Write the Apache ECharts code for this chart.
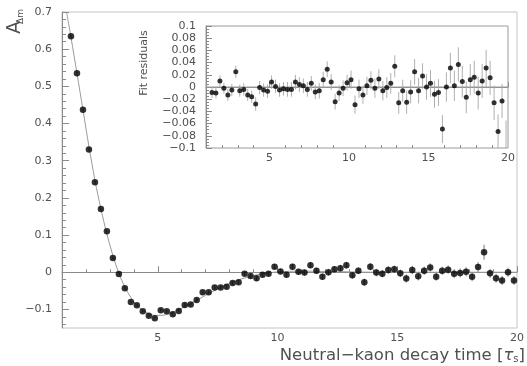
<!DOCTYPE html>
<html><head><meta charset="utf-8">
<script src="https://cdn.jsdelivr.net/npm/echarts@6/dist/echarts.min.js"></script>
<style>html,body{margin:0;padding:0;background:#fff}#c{width:527px;height:366px}</style>
</head><body><div id="c"></div>
<script>
// ---- data ----
const binCenters = [1.375,1.625,1.875,2.125,2.375,2.625,2.875,3.125,3.375,3.625,3.875,4.125,4.375,4.625,4.875,
  5.125,5.375,5.625,5.875,6.125,6.375,6.625,6.875,7.125,7.375,7.625,7.875,8.125,8.375,8.625,8.875,
  9.125,9.375,9.625,9.875,10.125,10.375,10.625,10.875,11.125,11.375,11.625,11.875,12.125,12.375,12.625,12.875,
  13.125,13.375,13.625,13.875,14.125,14.375,14.625,14.875,15.125,15.375,15.625,15.875,16.125,16.375,16.625,16.875,
  17.125,17.375,17.625,17.875,18.125,18.375,18.625,18.875,19.125,19.375,19.625,19.875];
const asymmetry = [0.635,0.535,0.437,0.330,0.242,0.170,0.110,0.038,-0.005,-0.043,-0.080,-0.089,-0.105,-0.117,-0.124,
  -0.102,-0.105,-0.113,-0.104,-0.088,-0.087,-0.075,-0.054,-0.054,-0.041,-0.041,-0.039,-0.029,-0.027,-0.004,-0.010,
  -0.016,-0.007,-0.004,0.015,0.002,-0.007,0.015,0.001,-0.001,0.019,0.004,-0.012,0.000,0.008,0.011,0.019,
  -0.008,0.004,-0.027,0.015,-0.001,-0.004,0.006,0.008,-0.003,-0.017,0.006,-0.011,0.004,0.013,-0.012,0.004,
  0.007,-0.004,-0.002,0.001,-0.012,0.014,0.054,-0.003,-0.016,-0.022,0.000,-0.022];
const asymErr = [0.003,0.003,0.003,0.003,0.003,0.003,0.003,0.003,0.003,0.003,0.003,0.003,0.003,0.003,0.003,
  0.004,0.004,0.004,0.004,0.005,0.005,0.005,0.005,0.005,0.005,0.005,0.006,0.006,0.006,0.006,0.006,
  0.007,0.007,0.007,0.007,0.007,0.007,0.008,0.008,0.008,0.008,0.008,0.008,0.009,0.009,0.009,0.009,
  0.009,0.009,0.010,0.010,0.010,0.010,0.010,0.010,0.010,0.011,0.011,0.011,0.011,0.011,0.011,0.011,
  0.011,0.012,0.012,0.012,0.012,0.013,0.020,0.012,0.012,0.012,0.012,0.012];
const fitT = [1.19,1.375,1.625,1.875,2.125,2.375,2.625,2.875,3.125,3.375,3.625,3.875,4.125,4.375,4.625,4.875,5.125,
  5.5,6.0,6.5,7.0,7.5,8.0,8.5,9.0,9.5,10.0,11.0,12.0,13.0,14.0,16.0,20.0];
const fitA = [0.700,0.632,0.535,0.437,0.338,0.248,0.170,0.103,0.045,-0.003,-0.040,-0.068,-0.089,-0.103,-0.112,-0.116,-0.116,
  -0.111,-0.097,-0.080,-0.062,-0.045,-0.030,-0.018,-0.009,-0.003,0.001,0.003,0.002,0.001,0.000,0.000,0.000];
const residuals = [-0.009,-0.010,0.010,-0.002,-0.013,-0.005,0.025,-0.006,-0.004,-0.013,-0.016,-0.028,-0.001,-0.005,-0.007,
  0.008,0.001,-0.005,-0.003,-0.004,-0.004,0.008,0.004,0.002,-0.004,0.006,-0.008,-0.006,0.012,0.029,0.008,
  -0.024,-0.010,-0.002,0.007,0.012,-0.029,-0.003,-0.013,0.002,0.011,-0.002,0.013,-0.006,-0.001,0.006,0.034,
  -0.026,-0.006,-0.025,-0.008,0.025,-0.006,0.018,0.000,0.006,-0.012,-0.009,-0.069,0.000,0.031,0.002,0.037,
  0.009,-0.017,0.012,0.016,-0.010,0.010,0.031,0.015,-0.026,-0.073,-0.023,-0.115];
const residErr = [0.009,0.009,0.009,0.009,0.010,0.010,0.010,0.010,0.010,0.010,0.010,0.011,0.011,0.011,0.011,
  0.011,0.011,0.011,0.011,0.012,0.012,0.012,0.012,0.012,0.012,0.012,0.012,0.013,0.013,0.013,0.013,
  0.013,0.013,0.013,0.013,0.015,0.015,0.015,0.015,0.015,0.015,0.016,0.016,0.016,0.017,0.017,0.018,
  0.018,0.018,0.019,0.019,0.021,0.021,0.021,0.021,0.022,0.022,0.022,0.023,0.024,0.025,0.025,0.028,
  0.026,0.026,0.026,0.027,0.027,0.028,0.030,0.028,0.028,0.028,0.028,0.060];
const xMajorTicks = [5,10,15,20];
const xMinorTicks = [2,3,4,6,7,8,9,11,12,13,14,16,17,18,19];
const yMainTicks = [-0.1,0,0.1,0.2,0.3,0.4,0.5,0.6,0.7];
const yMainMinor = [-0.14,-0.12,-0.08,-0.06,-0.04,-0.02,0.02,0.04,0.06,0.08,0.12,0.14,0.16,0.18,
  0.22,0.24,0.26,0.28,0.32,0.34,0.36,0.38,0.42,0.44,0.46,0.48,0.52,0.54,0.56,0.58,0.62,0.64,0.66,0.68];

// ---- chart ----
const FONT = 'DejaVu Sans';
const AX = '#8a8a8a';
const TXT = '#505050';
function fmt(v){ const r = Math.round(v*100)/100; return String(r).replace('-', '\u2212'); }
function pairs(xs, ys){ return xs.map((x,i)=>[x, ys[i]]); }
function errBars(xs, ys, es, xi, yi, color){
  return {
    type:'custom', xAxisIndex:xi, yAxisIndex:yi, silent:true, z:1,
    data: xs.map((x,i)=>[x, ys[i], es[i]]),
    renderItem(params, api){
      const x = api.value(0), y = api.value(1), e = api.value(2);
      const p1 = api.coord([x, y+e]), p2 = api.coord([x, y-e]);
      const cs = params.coordSys;
      const top = Math.max(p1[1], cs.y), bot = Math.min(p2[1], cs.y + cs.height);
      if (bot <= top) return null;
      return {type:'line', shape:{x1:p1[0], y1:top, x2:p1[0], y2:bot}, style:{stroke:color, lineWidth:1}};
    }
  };
}
function xAxisPair(gi, majorLen, minorLen){
  return [
    {gridIndex:gi, type:'value', min:1, max:20, position:'bottom',
     axisLine:{show:true, lineStyle:{color:AX, width:1}},
     axisTick:{show:true, inside:true, length:majorLen, customValues:xMajorTicks, lineStyle:{color:AX}},
     axisLabel:{show:true, customValues:xMajorTicks, color:TXT, fontFamily:FONT, fontSize:11, margin:5},
     splitLine:{show:false}},
    {gridIndex:gi, type:'value', min:1, max:20, position:'bottom',
     axisLine:{show:false},
     axisTick:{show:true, inside:true, length:minorLen, customValues:xMinorTicks, lineStyle:{color:AX}},
     axisLabel:{show:false}, splitLine:{show:false}}
  ];
}
const chart = echarts.init(document.getElementById('c'), null, {renderer:'canvas'});
chart.setOption({
  animation:false,
  backgroundColor:'#ffffff',
  grid:[
    {left:62, top:12, width:461, height:316, show:true, borderColor:'#c4c4c4', borderWidth:1},
    {left:206, top:26, width:302, height:122, show:true, borderColor:'#9a9a9a', borderWidth:1}
  ],
  xAxis: xAxisPair(0, 6, 3).concat(xAxisPair(1, 5, 3)),
  yAxis:[
    {gridIndex:0, type:'value', min:-0.15, max:0.7, position:'left',
     axisLine:{show:true, lineStyle:{color:AX}},
     axisTick:{show:true, inside:true, length:7, customValues:yMainTicks, lineStyle:{color:AX}},
     axisLabel:{show:true, customValues:yMainTicks, formatter:fmt, color:TXT, fontFamily:FONT, fontSize:11, margin:10},
     splitLine:{show:false}},
    {gridIndex:0, type:'value', min:-0.15, max:0.7, position:'left',
     axisLine:{show:false},
     axisTick:{show:true, inside:true, length:4, customValues:yMainMinor, lineStyle:{color:AX}},
     axisLabel:{show:false}, splitLine:{show:false}},
    {gridIndex:1, type:'value', min:-0.1, max:0.1, interval:0.02, position:'left',
     axisLine:{show:true, lineStyle:{color:AX}},
     axisTick:{show:true, inside:true, length:6, lineStyle:{color:AX}},
     minorTick:{show:true, splitNumber:4, length:3, lineStyle:{color:AX}},
     axisLabel:{show:true, formatter:fmt, color:TXT, fontFamily:FONT, fontSize:11, margin:10, lineHeight:11},
     splitLine:{show:false}}
  ],
  series:[
    {type:'line', xAxisIndex:0, yAxisIndex:0, data:pairs(fitT, fitA), smooth:0.35, showSymbol:false,
     lineStyle:{color:'#9a9a9a', width:1}, z:1, silent:true},
    errBars(binCenters, asymmetry, asymErr, 0, 0, '#777'),
    {type:'scatter', xAxisIndex:0, yAxisIndex:0, data:pairs(binCenters, asymmetry), symbolSize:6.5,
     itemStyle:{color:'#000'}, z:3, silent:true},
    {type:'line', xAxisIndex:2, yAxisIndex:2, data:[[1,0],[20,0]], showSymbol:false,
     lineStyle:{color:'#9a9a9a', width:1}, z:1, silent:true},
    errBars(binCenters, residuals, residErr, 2, 2, '#b0b0b0'),
    {type:'scatter', xAxisIndex:2, yAxisIndex:2, data:pairs(binCenters, residuals), symbolSize:5,
     itemStyle:{color:'#000'}, z:3, clip:true, silent:true}
  ],
  graphic:[
    {type:'text', x:25, y:34, rotation:Math.PI/2,
     style:{text:'A', fill:TXT, fontFamily:FONT, fontSize:19, align:'left', verticalAlign:'bottom'}},
    {type:'text', x:25, y:24, rotation:Math.PI/2,
     style:{text:'\u0394m', fill:TXT, fontFamily:FONT, fontSize:9, align:'left', verticalAlign:'bottom'}},
    {type:'text', x:144, y:63, rotation:Math.PI/2,
     style:{text:'Fit residuals', fill:TXT, fontFamily:FONT, fontSize:11, align:'center', verticalAlign:'middle'}},
    {type:'text', x:525, y:355,
     style:{text:'{n|Neutral\u2212kaon decay time [}{t|\u03c4}{s|s}{n|]}', fill:TXT, align:'right', verticalAlign:'middle',
       rich:{n:{fontFamily:FONT, fontSize:16.5, fill:TXT, verticalAlign:'bottom', lineHeight:19},
             t:{fontFamily:FONT, fontSize:16.5, fontStyle:'italic', fill:TXT, verticalAlign:'bottom', lineHeight:19},
             s:{fontFamily:FONT, fontSize:10, fill:TXT, verticalAlign:'bottom', lineHeight:15}}}}
  ]
});
</script></body></html>
